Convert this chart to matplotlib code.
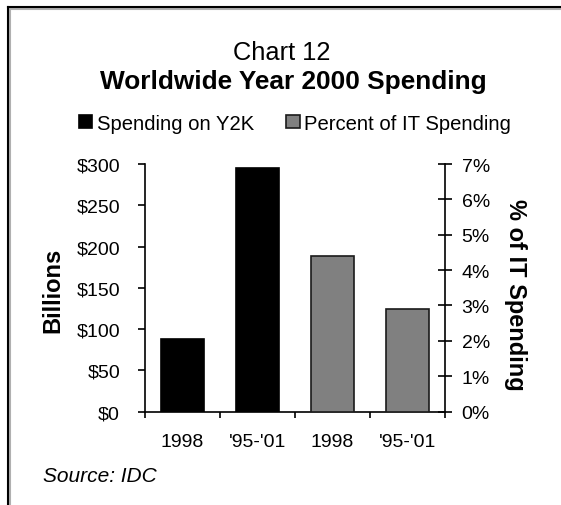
import matplotlib
matplotlib.use("Agg")
import matplotlib.pyplot as plt
from matplotlib.lines import Line2D

plt.rcParams['font.family'] = ['Liberation Sans', 'DejaVu Sans']

categories = ["1998", "'95-'01", "1998", "'95-'01"]
spending_billions = [88, 295]          # Spending on Y2K ($ billions)
percent_it = [4.4, 2.9]                # Percent of IT Spending (%)
left_ticks = [0, 50, 100, 150, 200, 250, 300]
right_ticks = [0, 1, 2, 3, 4, 5, 6, 7]

W, H = 561, 506
fig = plt.figure(figsize=(W / 100, H / 100), dpi=100)
fig.patch.set_facecolor('white')

def fx(px):
    return px / W

def fy(py):
    return 1 - py / H

ax = fig.add_axes([fx(145), fy(412.6), fx(445) - fx(145), fy(165) - fy(412.6)])
ax2 = ax.twinx()

xpos = [i + 0.5 for i in range(len(categories))]
bw = 0.58
b1 = ax.bar(xpos[:2], spending_billions, width=bw, color='black', edgecolor='black', linewidth=1.2)
b2 = ax2.bar(xpos[2:], percent_it, width=bw, color='#808080', edgecolor='#1a1a1a', linewidth=1.2)

ax.set_xlim(0, 4)
ax.set_ylim(0, 300)
ax2.set_ylim(0, 7)

ax.set_yticks(left_ticks)
ax.set_yticklabels([f"${v}" for v in left_ticks])
ax2.set_yticks(right_ticks)
ax2.set_yticklabels([f"{v}%" for v in right_ticks])

ax.set_xticks([0, 1, 2, 3, 4])
ax.set_xticklabels([])
ax.set_xticks(xpos, minor=True)
ax.set_xticklabels(categories, minor=True)
ax.tick_params(axis='x', which='minor', length=0, pad=15.5, labelsize=14)
ax.tick_params(axis='x', which='major', direction='out', length=4.5, width=1.2)
ax.tick_params(axis='y', direction='out', length=5, width=1.2, pad=13, labelsize=14)
ax2.tick_params(axis='y', direction='inout', length=10, width=1.2, pad=7, labelsize=14)

for a in (ax, ax2):
    a.spines['top'].set_visible(False)
    for s in ('left', 'right', 'bottom'):
        a.spines[s].set_linewidth(1.2)
ax.spines['right'].set_visible(False)
ax2.spines['left'].set_visible(False)
ax2.spines['bottom'].set_visible(False)

fig.text(fx(52.5), fy(290), "Billions", rotation=90, ha='center', va='center',
         fontsize=17, fontweight='bold')
fig.text(fx(515), fy(295), "% of IT Spending", rotation=-90, ha='center', va='center',
         fontsize=17, fontweight='bold')

fig.text(fx(282), fy(53), "Chart 12", ha='center', va='center', fontsize=18.3)
fig.text(fx(293), fy(82), "Worldwide Year 2000 Spending", ha='center', va='center',
         fontsize=18.9, fontweight='bold')

fig.legend(handles=[b1, b2], labels=["Spending on Y2K", "Percent of IT Spending"],
           loc='center left', bbox_to_anchor=(fx(79), fy(124)), ncol=2, frameon=False,
           handlelength=0.65, handleheight=0.65, handletextpad=0.22, columnspacing=1.6,
           borderpad=0, borderaxespad=0, fontsize=14.6)

fig.text(fx(43), fy(477), "Source: IDC", ha='left', va='center', fontsize=15, style='italic')

# frame lines
fig.add_artist(Line2D([fx(9), 1.0], [fy(9.5), fy(9.5)], color='#b0b0b0', linewidth=1.5))
fig.add_artist(Line2D([fx(10), fx(10)], [fy(9), 0.0], color='#b0b0b0', linewidth=1.5))
fig.add_artist(Line2D([fx(8), 1.0], [fy(8), fy(8)], color='black', linewidth=1.5))
fig.add_artist(Line2D([fx(8), fx(8)], [fy(8), 0.0], color='black', linewidth=1.5))

fig.savefig("out.png", dpi=100)
